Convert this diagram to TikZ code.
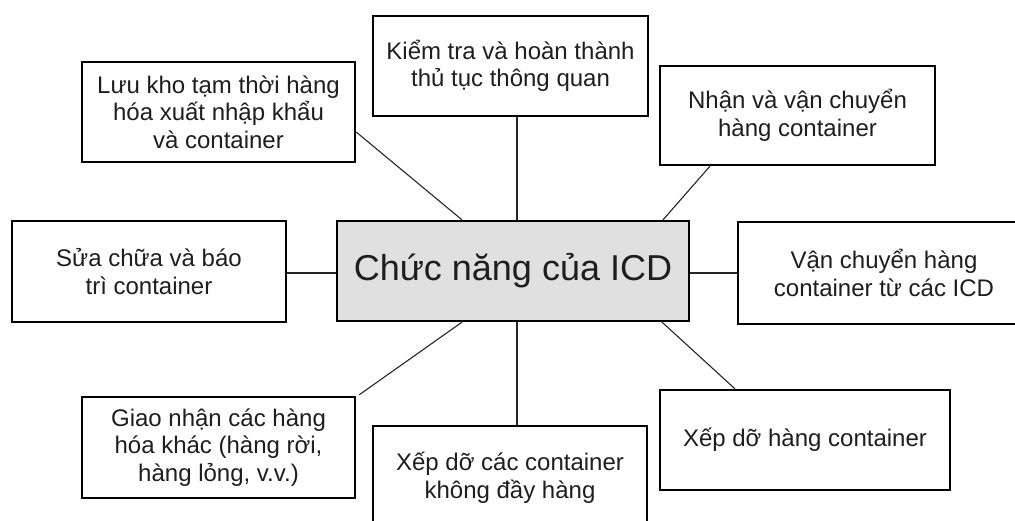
\documentclass[tikz,border=0pt]{standalone}
\usepackage{fontspec}
\setmainfont{Liberation Sans}
\definecolor{boxgray}{HTML}{E0E0E0}
\definecolor{txt}{HTML}{1E1E1E}
\tikzset{
  fbox/.style={draw=black, line width=2.3pt, fill=white, align=center, inner sep=0pt,
    text=txt, font=\fontsize{24}{27.5}\selectfont},
  cbox/.style={fbox, fill=boxgray, font=\fontsize{36}{40}\selectfont},
  link/.style={draw=black!85, line width=1.1pt},
}
\begin{document}
\begin{tikzpicture}[x=1pt,y=-1pt]
\useasboundingbox (0,0) rectangle (1015,521);
\clip (0,0) rectangle (1015,521);
\node[cbox, minimum width=352, minimum height=100] (ct) at (513,271) {Chức năng của ICD};
\node[fbox, minimum width=273, minimum height=100] (lk) at (218.5,112) {Lưu kho tạm thời hàng\\hóa xuất nhập khẩu\\và container};
\node[fbox, minimum width=275, minimum height=100] (kt) at (510.5,66) {Kiểm tra và hoàn thành\\thủ tục thông quan};
\node[fbox, minimum width=275, minimum height=99] (nh) at (797.5,115.5) {Nhận và vận chuyển\\hàng container};
\node[fbox, minimum width=274, minimum height=101] (sc) at (149,271.5) {Sửa chữa và báo\\trì container};
\node[fbox, minimum width=292, minimum height=102] (vc) at (884,273) {Vận chuyển hàng\\container từ các ICD};
\node[fbox, minimum width=273, minimum height=101] (gn) at (218.5,447.5) {Giao nhận các hàng\\hóa khác (hàng rời,\\hàng lỏng, v.v.)};
\node[fbox, minimum width=274, minimum height=104] (xc) at (510,478) {Xếp dỡ các container\\không đầy hàng};
\node[fbox, minimum width=290, minimum height=100] (xh) at (805,440) {Xếp dỡ hàng container};
\draw[link] ([yshift=-20]lk.east) -- ([xshift=-51]ct.north);
\draw[link] ([xshift=6.5]kt.south) -- ([xshift=4]ct.north);
\draw[link] ([xshift=-87.5]nh.south) -- ([xshift=150]ct.north);
\draw[link] ([yshift=-1.5]sc.east) -- ([yshift=-2]ct.west);
\draw[link] ([yshift=-2]ct.east) -- ([yshift=0]vc.west);
\draw[link] ([xshift=-51]ct.south) -- ([xshift=3,yshift=1]gn.north east);
\draw[link] ([xshift=4]ct.south) -- ([xshift=7]xc.north);
\draw[link] ([xshift=149]ct.south) -- ([xshift=-70]xh.north);
\end{tikzpicture}
\end{document}
